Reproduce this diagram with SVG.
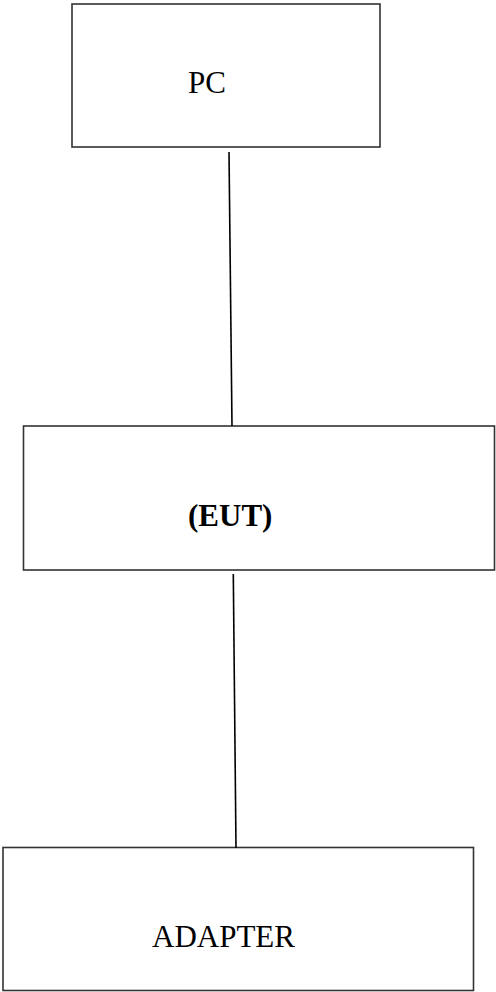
<svg xmlns="http://www.w3.org/2000/svg" width="496" height="992" viewBox="0 0 496 992">
<style>
.box{fill:#fff;stroke:#333;stroke-width:1.6}
.lbl{font-family:"Liberation Serif","Times New Roman",serif;font-size:31px;fill:#000}
.b{font-weight:bold}
.conn{stroke:#000;stroke-width:1.6;fill:none}
</style>
<rect width="496" height="992" fill="#fff"/>
<g id="pc">
<rect class="box" x="72" y="4" width="308" height="143"/>
<text class="lbl" x="188" y="93">PC</text>
</g>
<g id="eut">
<rect class="box" x="23.5" y="426" width="471" height="144"/>
<text class="lbl b" x="188" y="526">(EUT)</text>
</g>
<g id="adapter">
<rect class="box" x="3" y="847.5" width="470.5" height="143"/>
<text class="lbl" x="152" y="947">ADAPTER</text>
</g>
<g id="connectors">
<line class="conn" x1="229" y1="152" x2="232" y2="426"/>
<line class="conn" x1="233.3" y1="574" x2="236" y2="848"/>
</g>
</svg>
